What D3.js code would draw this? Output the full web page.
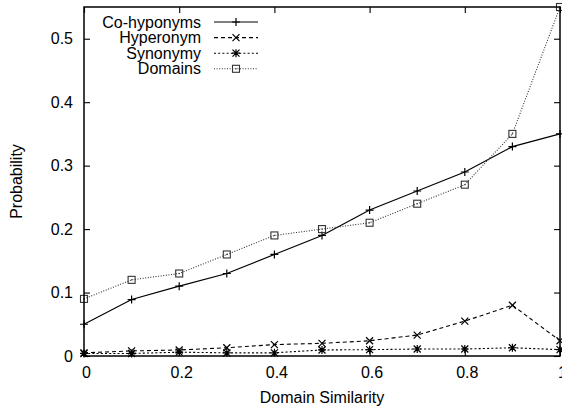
<!DOCTYPE html>
<html>
<head>
<meta charset="utf-8">
<script src="https://cdn.jsdelivr.net/npm/d3@7"></script>
<style>
  html, body { margin: 0; padding: 0; background: #fff; }
  svg { display: block; }
  text { font-family: "Liberation Sans", Arial, Helvetica, sans-serif; font-size: 16px; fill: #000; }
</style>
</head>
<body>
<svg id="chart" width="562" height="410"></svg>
<script>
// Domain similarity bins
const similarity = [0, 0.1, 0.2, 0.3, 0.4, 0.5, 0.6, 0.7, 0.8, 0.9, 1.0];

// Probability per relation type
const coHyponyms = [0.05, 0.089, 0.11, 0.13, 0.16, 0.19, 0.23, 0.26, 0.29, 0.33, 0.35];
const hyperonym  = [0.005, 0.008, 0.0095, 0.013, 0.018, 0.02, 0.024, 0.033, 0.055, 0.08, 0.024];
const synonymy   = [0.004, 0.004, 0.006, 0.005, 0.005, 0.0095, 0.01, 0.011, 0.011, 0.013, 0.01];
const domains    = [0.09, 0.12, 0.13, 0.16, 0.19, 0.20, 0.21, 0.24, 0.27, 0.35, 0.55];

const seriesNames = ["Co-hyponyms", "Hyperonym", "Synonymy", "Domains"];

const xTicks = [0, 0.2, 0.4, 0.6, 0.8, 1];
const xTickLabels = ["0", "0.2", "0.4", "0.6", "0.8", "1"];
const yTicks = [0, 0.1, 0.2, 0.3, 0.4, 0.5];
const yTickLabels = ["0", "0.1", "0.2", "0.3", "0.4", "0.5"];

const xTitle = "Domain Similarity";
const yTitle = "Probability";

const svg = d3.select("#chart");
const plotLeft = 84, plotRight = 560, plotTop = 7, plotBottom = 356;

const x = d3.scaleLinear().domain([0, 1]).range([plotLeft, plotRight]);
const y = d3.scaleLinear().domain([0, 0.55]).range([plotBottom, plotTop]);

// Marker shapes in gnuplot style
const plusPath  = "M-4,0H4M0,-4V4";
const crossPath = "M-3.5,-3.5L3.5,3.5M-3.5,3.5L3.5,-3.5";
const starPath  = plusPath + crossPath;

const styles = [
  { values: coHyponyms, stroke: "#000", dash: null,    width: 1.2, marker: "plus" },
  { values: hyperonym,  stroke: "#000", dash: "4,3",   width: 1.1, marker: "cross" },
  { values: synonymy,   stroke: "#000", dash: "2,2.2", width: 1.1, marker: "star" },
  { values: domains,    stroke: "#333", dash: "1,1.6", width: 1.1, marker: "box" }
];

function drawMarker(g, kind, cx, cy, stroke) {
  if (kind === "box") {
    g.append("rect")
      .attr("x", cx - 3.5).attr("y", cy - 3.5)
      .attr("width", 7).attr("height", 7)
      .attr("fill", "none").attr("stroke", stroke).attr("stroke-width", 1.1);
    g.append("rect")
      .attr("x", cx - 0.6).attr("y", cy - 0.6)
      .attr("width", 1.2).attr("height", 1.2)
      .attr("fill", stroke);
  } else {
    const p = kind === "plus" ? plusPath : kind === "cross" ? crossPath : starPath;
    g.append("path")
      .attr("d", p)
      .attr("transform", `translate(${cx},${cy})`)
      .attr("fill", "none").attr("stroke", stroke).attr("stroke-width", 1.2);
  }
}

// Axes: ticks point inward and are mirrored on all four sides
const gx = svg.append("g").attr("transform", `translate(0,${plotBottom})`)
  .call(d3.axisBottom(x).tickValues(xTicks)
    .tickFormat((d, i) => xTickLabels[i]).tickSize(-6).tickPadding(11));
gx.selectAll("text").attr("dx", 2);

svg.append("g").attr("transform", `translate(${plotLeft},0)`)
  .call(d3.axisLeft(y).tickValues(yTicks)
    .tickFormat((d, i) => yTickLabels[i]).tickSize(-6).tickPadding(11));

svg.append("g").attr("transform", `translate(0,${plotTop})`)
  .call(d3.axisTop(x).tickValues(xTicks).tickFormat("").tickSize(-6));

svg.append("g").attr("transform", `translate(${plotRight},0)`)
  .call(d3.axisRight(y).tickValues(yTicks).tickFormat("").tickSize(-6));

svg.selectAll(".domain").remove();
svg.selectAll(".tick line").attr("stroke", "#000").attr("stroke-width", 1.1);
svg.selectAll(".tick text")
  .style("font-family", "'Liberation Sans', Arial, Helvetica, sans-serif")
  .style("font-size", "16px").attr("fill", "#000");

// Series lines and markers
const line = d3.line().x((d, i) => x(similarity[i])).y(d => y(d));
styles.forEach(s => {
  const g = svg.append("g");
  g.append("path")
    .datum(s.values)
    .attr("d", line)
    .attr("fill", "none")
    .attr("stroke", s.stroke)
    .attr("stroke-width", s.width)
    .attr("stroke-dasharray", s.dash);
  s.values.forEach((v, i) => drawMarker(g, s.marker, x(similarity[i]), y(v), s.stroke));
});

// Plot frame
svg.append("rect")
  .attr("x", plotLeft).attr("y", plotTop)
  .attr("width", plotRight - plotLeft).attr("height", plotBottom - plotTop)
  .attr("fill", "none").attr("stroke", "#000").attr("stroke-width", 1.5);

// Legend
const legend = svg.append("g");
seriesNames.forEach((name, i) => {
  const ly = 22 + i * 15.6;
  const s = styles[i];
  legend.append("text")
    .attr("x", 201).attr("y", ly).attr("dy", "0.35em")
    .attr("text-anchor", "end").text(name);
  legend.append("line")
    .attr("x1", 214).attr("x2", 258).attr("y1", ly).attr("y2", ly)
    .attr("stroke", s.stroke).attr("stroke-width", s.width)
    .attr("stroke-dasharray", s.dash);
  drawMarker(legend, s.marker, 236, ly, s.stroke);
});

// Axis titles
svg.append("text")
  .attr("x", (plotLeft + plotRight) / 2).attr("y", 403)
  .attr("text-anchor", "middle").text(xTitle);

svg.append("text")
  .attr("transform", `translate(22,${(plotTop + plotBottom) / 2}) rotate(-90)`)
  .attr("text-anchor", "middle").text(yTitle);
</script>
</body>
</html>
